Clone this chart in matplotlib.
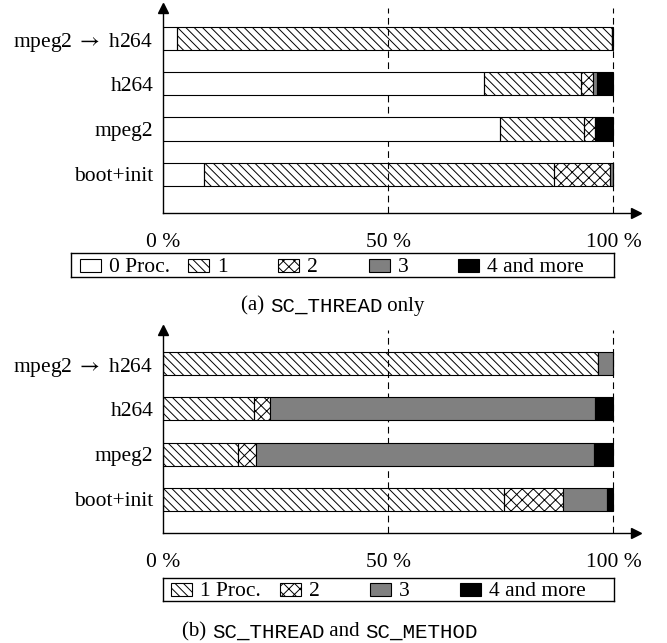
import matplotlib
matplotlib.use("Agg")
import matplotlib.pyplot as plt
import numpy as np
from matplotlib.patches import Rectangle

plt.rcParams['font.family'] = ['Liberation Serif', 'DejaVu Serif']
plt.rcParams['mathtext.fontset'] = 'stix'
plt.rcParams['font.size'] = 15.5
plt.rcParams['hatch.linewidth'] = 0.7

rows = ["boot+init", "mpeg2", "h264", "mpeg2 $\\rightarrow$ h264"]

# (a) SC_THREAD only, share of time in %
a_labels = ["0 Proc.", "1", "2", "3", "4 and more"]
a_vals = {
    "0 Proc.":    [9.2, 74.9, 71.2, 3.1],
    "1":          [77.7, 18.6, 21.5, 96.5],
    "2":          [12.3, 2.4, 2.7, 0.0],
    "3":          [0.6, 0.0, 0.9, 0.0],
    "4 and more": [0.2, 4.1, 3.7, 0.4],
}

# (b) SC_THREAD and SC_METHOD
b_labels = ["1 Proc.", "2", "3", "4 and more"]
b_vals = {
    "1 Proc.":    [75.7, 16.6, 20.3, 96.6],
    "2":          [13.0, 4.1, 3.5, 0.0],
    "3":          [9.8, 74.9, 72.1, 3.4],
    "4 and more": [1.5, 4.4, 4.1, 0.0],
}

ticks = [0, 50, 100]
tick_labels = ["0 %", "50 %", "100 %"]

styles = {
    "0": dict(facecolor="white", hatch=None),
    "1": dict(facecolor="none", hatch="\\\\\\\\"),
    "2": dict(facecolor="none", hatch="xxx"),
    "3": dict(facecolor="#808080", hatch=None),
    "4": dict(facecolor="black", hatch=None),
}


def style_of(label):
    return styles[label[0]]


def draw_panel(ax, labels, vals, ylim):
    y = np.arange(len(rows))
    for x in [50, 100]:
        ax.axvline(x, color="black", lw=0.8, ls=(0, (6, 4)), zorder=0)
    left = np.zeros(len(rows))
    for lab in labels:
        v = np.array(vals[lab])
        st = style_of(lab)
        ax.barh(y, v, left=left, height=0.51, facecolor=st["facecolor"],
                hatch=st["hatch"], edgecolor="black", linewidth=0.8, zorder=2)
        left += v
    ax.set_yticks(y)
    ax.set_yticklabels(rows)
    ax.set_xticks(ticks)
    ax.set_xticklabels(tick_labels)
    ax.tick_params(axis="y", length=0, pad=7)
    ax.tick_params(axis="x", length=0, pad=14.5)
    ax.set_xlim(0, 105)
    ax.set_ylim(*ylim)
    ax.spines["top"].set_visible(False)
    ax.spines["right"].set_visible(False)
    ax.spines["left"].set_linewidth(1.0)
    ax.spines["bottom"].set_linewidth(1.0)
    ax.plot(1, 0, ">k", ms=7, transform=ax.transAxes, clip_on=False)
    ax.plot(0, 1, "^k", ms=7, transform=ax.transAxes, clip_on=False)


fig = plt.figure(figsize=(6.67, 6.43), dpi=100)
W, H = 667, 643

ax1 = fig.add_axes([163 / W, 1 - 213 / H, 473 / W, 205 / H])
draw_panel(ax1, a_labels, a_vals, (-0.86, 3.68))
ax2 = fig.add_axes([163 / W, 1 - 533 / H, 473 / W, 203 / H])
draw_panel(ax2, b_labels, b_vals, (-0.74, 3.74))


def legend_box(labels, x0, x1, y0, y1, handle_x):
    # legend drawn in its own axes, measured in figure pixels
    lax = fig.add_axes([x0 / W, 1 - y1 / H, (x1 - x0) / W, (y1 - y0) / H])
    lax.set_xlim(x0, x1)
    lax.set_ylim(0, y1 - y0)
    lax.set_xticks([])
    lax.set_yticks([])
    for s in lax.spines.values():
        s.set_linewidth(1.0)
    mid = (y1 - y0) / 2
    for lab, hx in zip(labels, handle_x):
        st = style_of(lab)
        lax.add_patch(Rectangle((hx, mid - 6.5), 21, 13, facecolor=st["facecolor"],
                                hatch=st["hatch"], edgecolor="black", linewidth=0.8))
        lax.text(hx + 29, mid, lab, va="center_baseline", ha="left")


legend_box(a_labels, 71, 614, 253, 277, [80, 188, 278, 369, 458])
legend_box(b_labels, 163, 614, 578, 601, [171, 280, 370, 460])

mono = ["Liberation Mono", "DejaVu Sans Mono"]
serif = ["Liberation Serif", "DejaVu Serif"]


def caption(pieces, xc, y):
    fig.canvas.draw()
    r = fig.canvas.get_renderer()
    texts = []
    widths = []
    for s, fam in pieces:
        t = fig.text(0, y, s, family=fam, fontsize=15, va="center", ha="left")
        texts.append(t)
        widths.append(t.get_window_extent(r).width)
    x = xc * W - sum(widths) / 2
    for t, w in zip(texts, widths):
        t.set_x(x / W)
        x += w


caption([("(a) ", serif), ("SC_THREAD", mono), (" only", serif)],
        333 / W, 1 - 306 / H)
caption([("(b) ", serif), ("SC_THREAD", mono), (" and ", serif),
         ("SC_METHOD", mono)], 330 / W, 1 - 632 / H)

fig.savefig("out.png", dpi=100)
